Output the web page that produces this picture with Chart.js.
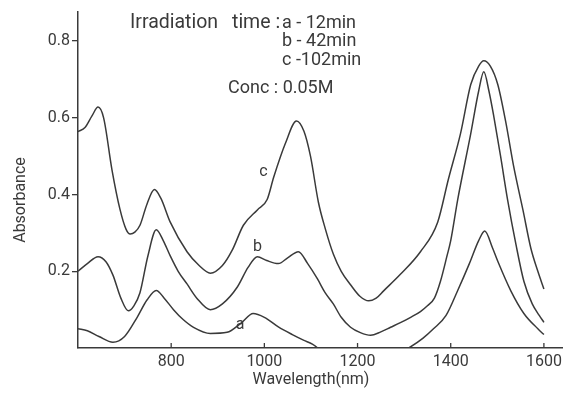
<!DOCTYPE html>
<html>
<head>
<meta charset="utf-8">
<script src="https://cdn.jsdelivr.net/npm/chart.js@4/dist/chart.umd.min.js"></script>
<style>
  html, body { margin: 0; padding: 0; background: #fff; }
  #wrap { width: 566px; height: 396px; }
</style>
</head>
<body>
<div id="wrap"><canvas id="myChart" width="566" height="396"></canvas></div>
<script>
// values
const waveC = [600, 615, 630, 643, 655, 673, 690, 703, 712, 722, 733, 748, 764, 778, 798, 834, 860, 884, 910, 931, 955, 985, 1006, 1020, 1045, 1069, 1085, 1099, 1116, 1131, 1148, 1165, 1185, 1205, 1224, 1240, 1256, 1292, 1335, 1372, 1395, 1421, 1443, 1460, 1471, 1485, 1501, 1518, 1535, 1555, 1572, 1587, 1600];
const absC = [0.564, 0.575, 0.605, 0.628, 0.6, 0.464, 0.362, 0.31, 0.297, 0.302, 0.32, 0.375, 0.413, 0.39, 0.328, 0.251, 0.215, 0.195, 0.215, 0.255, 0.32, 0.36, 0.387, 0.445, 0.533, 0.592, 0.565, 0.5, 0.38, 0.31, 0.245, 0.2, 0.165, 0.135, 0.123, 0.13, 0.149, 0.192, 0.251, 0.328, 0.44, 0.559, 0.687, 0.735, 0.749, 0.735, 0.687, 0.59, 0.474, 0.36, 0.26, 0.2, 0.154];

const waveB = [600, 620, 643, 660, 675, 692, 708, 720, 733, 750, 768, 783, 798, 815, 834, 855, 884, 910, 942, 965, 985, 1005, 1030, 1050, 1073, 1093, 1114, 1130, 1148, 1165, 1185, 1206, 1228, 1250, 1271, 1292, 1314, 1335, 1350, 1365, 1378, 1392, 1400, 1415, 1443, 1460, 1471, 1482, 1493, 1507, 1522, 1540, 1557, 1575, 1590, 1600];
const absB = [0.2, 0.22, 0.238, 0.225, 0.19, 0.13, 0.097, 0.11, 0.144, 0.24, 0.308, 0.28, 0.24, 0.2, 0.167, 0.13, 0.1, 0.115, 0.159, 0.21, 0.238, 0.228, 0.22, 0.235, 0.251, 0.22, 0.18, 0.145, 0.115, 0.08, 0.054, 0.04, 0.033, 0.042, 0.054, 0.066, 0.08, 0.095, 0.11, 0.13, 0.174, 0.24, 0.28, 0.387, 0.559, 0.67, 0.72, 0.67, 0.6, 0.5, 0.387, 0.27, 0.174, 0.115, 0.085, 0.067];

const waveA = [600, 620, 645, 675, 700, 727, 748, 768, 785, 805, 825, 848, 884, 920, 950, 976, 1000, 1030, 1060, 1085, 1103, 1150, 1250, 1310, 1340, 1363, 1390, 1415, 1440, 1460, 1473, 1490, 1501, 1529, 1557, 1587, 1600];
const absA = [0.05, 0.045, 0.03, 0.015, 0.03, 0.08, 0.125, 0.15, 0.13, 0.1, 0.075, 0.054, 0.038, 0.041, 0.065, 0.09, 0.08, 0.055, 0.035, 0.02, 0.01, -0.03, -0.04, 0.0, 0.025, 0.05, 0.085, 0.15, 0.22, 0.28, 0.305, 0.26, 0.226, 0.149, 0.09, 0.05, 0.035];

const xTicks = [800, 1000, 1200, 1400, 1600];
const yTicks = [0.2, 0.4, 0.6, 0.8];

const seriesNames = ["a", "b", "c"];
// where the curve letters sit (wavelength, absorbance)
const nameSpots = [[948, 0.06], [985, 0.264], [998, 0.46]];

const ink = "#3a3a3a";
const font = "Roboto, 'DejaVu Sans', sans-serif";

function toPoints(xs, ys) {
  const pts = [];
  for (let i = 0; i < xs.length; i++) pts.push({ x: xs[i], y: ys[i] });
  return pts;
}

// extra text + inward x ticks
const paperBits = {
  id: "paperBits",
  afterDraw(chart) {
    const c = chart.ctx;
    const xs = chart.scales.x;
    const ys = chart.scales.y;
    c.save();
    c.strokeStyle = ink;
    c.lineWidth = 1.3;
    xTicks.forEach(v => {
      const px = xs.getPixelForValue(v);
      c.beginPath();
      c.moveTo(px, chart.chartArea.bottom);
      c.lineTo(px, chart.chartArea.bottom - 5);
      c.stroke();
    });

    c.fillStyle = ink;
    c.textBaseline = "middle";
    c.textAlign = "left";
    c.font = "19.5px " + font;
    c.fillText("Irradiation", 130, 23);
    c.fillText("time :", 232, 23);
    c.font = "18px " + font;
    c.fillText("a - 12min", 282, 23);
    c.fillText("b - 42min", 282, 41);
    c.fillText("c -102min", 282, 60);
    c.fillText("Conc : 0.05M", 228, 88);

    c.font = "16px " + font;
    c.textAlign = "center";
    seriesNames.forEach((n, i) => {
      c.fillText(n, xs.getPixelForValue(nameSpots[i][0]), ys.getPixelForValue(nameSpots[i][1]));
    });

    // axis titles
    c.fillText("Wavelength(nm)", 311, 380);
    c.translate(21, 200);
    c.rotate(-Math.PI / 2);
    c.fillText("Absorbance", 0, 0);
    c.restore();
  }
};

function renderChart() {
  const ctx = document.getElementById("myChart");
  const sets = [[waveA, absA], [waveB, absB], [waveC, absC]];

  new Chart(ctx, {
    type: "line",
    data: {
      datasets: sets.map((s, i) => ({
        label: seriesNames[i],
        data: toPoints(s[0], s[1]),
        borderColor: ink,
        borderWidth: 1.5,
        pointRadius: 0,
        fill: false,
        cubicInterpolationMode: "monotone",
      })),
    },
    options: {
      responsive: false,
      animation: false,
      layout: { padding: { top: 6, right: 3, left: 0, bottom: 0 } },
      plugins: { legend: { display: false }, tooltip: { enabled: false } },
      scales: {
        x: {
          type: "linear",
          min: 600,
          max: 1640,
          afterBuildTicks: s => { s.ticks = xTicks.map(v => ({ value: v })); },
          afterFit: s => { s.height = 48; },
          grid: { drawOnChartArea: false, drawTicks: false },
          border: { color: ink, width: 1.5 },
          ticks: { color: ink, font: { family: font, size: 16 }, padding: 4, maxRotation: 0, callback: v => String(v) },
        },
        y: {
          min: 0,
          max: 0.877,
          afterBuildTicks: s => { s.ticks = yTicks.map(v => ({ value: v })); },
          afterFit: s => { s.width = 78; },
          grid: { drawOnChartArea: false, tickLength: 6, color: ink, lineWidth: 1.3 },
          border: { color: ink, width: 1.5 },
          ticks: { color: ink, font: { family: font, size: 16 }, padding: 2, callback: v => v.toFixed(1) },
        },
      },
    },
    plugins: [paperBits],
  });
}
renderChart();
</script>
</body>
</html>
